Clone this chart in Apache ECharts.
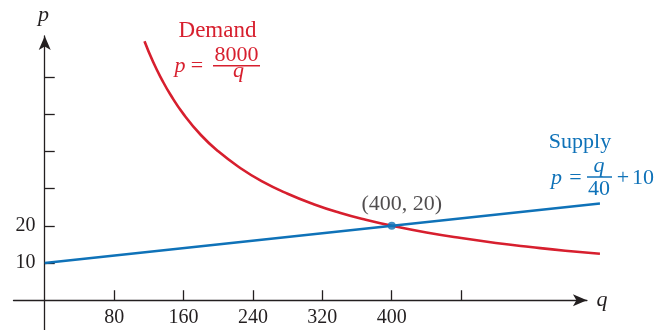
<!DOCTYPE html>
<html>
<head>
<meta charset="utf-8">
<script src="https://cdn.jsdelivr.net/npm/echarts@6/dist/echarts.min.js"></script>
<style>html,body{margin:0;padding:0;background:#fff}#c{width:657px;height:330px}</style>
</head>
<body>
<div id="c"></div>
<script>
// Data
var demandQ = [115, 125, 135, 145, 160, 180, 200, 225, 250, 280, 310, 340, 370, 400, 440, 480, 520, 560, 600, 640];
var demandP = [69.6, 64, 59.3, 55.2, 50, 44.4, 40, 35.6, 32, 28.6, 25.8, 23.5, 21.6, 20, 18.2, 16.7, 15.4, 14.3, 13.3, 12.5];
var supplyQ = [0, 640];
var supplyP = [10, 26];
var equilibrium = [400, 20];
var xTicks = [80, 160, 240, 320, 400, 480];
var xLabels = [80, 160, 240, 320, 400];
var yTicks = [10, 20, 30, 40, 50, 60];
var yLabels = [10, 20];

var RED = '#d71f2e';
var BLUE = '#0f72b8';
var INK = '#231f20';
var SERIF = '"Liberation Serif", "DejaVu Serif", serif';

function pairs(a, b) { return a.map(function (v, i) { return [v, b[i]]; }); }

function txt(t, x, y, color, italic, size) {
  return {
    type: 'text', silent: true,
    style: {
      text: t, x: x, y: y, fill: color,
      font: (italic ? 'italic ' : '') + (size || 20) + 'px ' + SERIF,
      textAlign: 'center', textVerticalAlign: 'middle',
      align: 'center', verticalAlign: 'middle'
    }
  };
}
function bar(x1, x2, y, color) {
  return { type: 'line', silent: true, shape: { x1: x1, y1: y, x2: x2, y2: y }, style: { stroke: color, lineWidth: 1.5 } };
}

// scale: 0.8675 px per q unit, 3.72 px per p unit
var PXQ = 0.8675;
var axisXMin = -36, axisXMax = 625, dataXMax = 640;

var chart = echarts.init(document.getElementById('c'), null, { renderer: 'canvas' });
chart.setOption({
  animation: false,
  backgroundColor: '#fff',
  grid: [
    { left: 13.5, top: 36, width: (axisXMax - axisXMin) * PXQ, height: 294, containLabel: false, outerBoundsMode: 'none' },
    { left: 13.5, top: 36, width: (dataXMax - axisXMin) * PXQ, height: 294, containLabel: false, outerBoundsMode: 'none' }
  ],
  xAxis: [
    {
      type: 'value', gridIndex: 0, min: axisXMin, max: axisXMax,
      axisLine: { onZero: true, symbol: ['none', 'arrow'], symbolSize: [9, 14], lineStyle: { color: INK, width: 1.3 } },
      axisTick: { inside: true, length: 10, customValues: xTicks, lineStyle: { color: INK, width: 1.3 } },
      axisLabel: { customValues: xLabels, margin: -22, color: INK, fontSize: 20, fontFamily: SERIF },
      splitLine: { show: false }
    },
    {
      type: 'value', gridIndex: 1, min: axisXMin, max: dataXMax, show: false,
      splitLine: { show: false }
    }
  ],
  yAxis: [
    {
      type: 'value', gridIndex: 0, min: -8, max: 71,
      axisLine: { onZero: true, symbol: ['none', 'arrow'], symbolSize: [9, 14], lineStyle: { color: INK, width: 1.3 } },
      axisTick: { inside: true, length: 10, customValues: yTicks, lineStyle: { color: INK, width: 1.3 } },
      axisLabel: { customValues: yLabels, margin: -22, color: INK, fontSize: 20, fontFamily: SERIF },
      splitLine: { show: false }
    },
    {
      type: 'value', gridIndex: 1, min: -8, max: 71, show: false,
      splitLine: { show: false }
    }
  ],
  series: [
    {
      type: 'line', xAxisIndex: 1, yAxisIndex: 1, data: pairs(supplyQ, supplyP), showSymbol: false,
      lineStyle: { color: BLUE, width: 2.6 }, z: 3
    },
    {
      type: 'line', xAxisIndex: 1, yAxisIndex: 1, data: pairs(demandQ, demandP), smooth: true, showSymbol: false,
      lineStyle: { color: RED, width: 2.6 }, z: 2
    },
    {
      type: 'scatter', xAxisIndex: 1, yAxisIndex: 1, data: [equilibrium], symbolSize: 8, itemStyle: { color: BLUE }, z: 4,
      label: {
        show: true, position: 'top', distance: 7, offset: [10, 0],
        formatter: '(' + equilibrium[0] + ', ' + equilibrium[1] + ')',
        color: INK, fontSize: 22, fontFamily: SERIF
      }
    }
  ],
  graphic: [
    txt('p', 43.5, 15, INK, true, 22),
    txt('q', 602, 300, INK, true, 22),
    txt('Demand', 217.5, 30.5, RED, false, 23),
    txt('p', 180, 66.5, RED, true, 22),
    txt('=', 197, 66.5, RED, false, 22),
    txt('8000', 236.5, 55.5, RED, false, 22),
    bar(213, 260, 65.7, RED),
    txt('q', 238.5, 71, RED, true, 22),
    txt('Supply', 580, 142, BLUE, false, 22),
    txt('p', 556.5, 178, BLUE, true, 22),
    txt('=', 575.5, 178, BLUE, false, 22),
    txt('q', 599, 166, BLUE, true, 22),
    bar(587, 612, 177, BLUE),
    txt('40', 599, 189, BLUE, false, 22),
    txt('+', 623, 178, BLUE, false, 22),
    txt('10', 643, 178, BLUE, false, 22)
  ]
});
</script>
</body>
</html>
